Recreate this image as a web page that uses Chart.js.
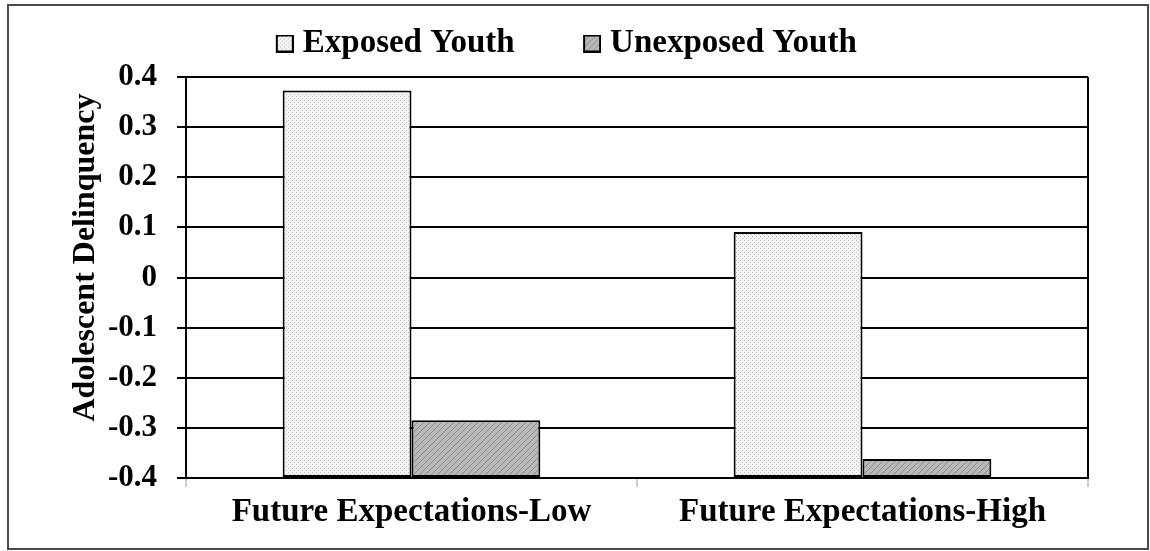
<!DOCTYPE html>
<html>
<head>
<meta charset="utf-8">
<script src="https://cdn.jsdelivr.net/npm/chart.js@4.4.1/dist/chart.umd.min.js"></script>
<style>
  html, body { margin: 0; padding: 0; background: #ffffff; }
  #wrap { position: relative; width: 1150px; height: 551px; overflow: hidden; }
  #frame { position: absolute; left: 7px; top: 4px; width: 1138px; height: 542px; border: 2px solid #4a4a4a; }
  #c { position: absolute; left: 0; top: 0; }
</style>
</head>
<body>
<div id="wrap">
  <div id="frame"></div>
  <canvas id="c" width="1150" height="551"></canvas>
</div>
<script>
// ---- data ----
const categories = ['Future Expectations-Low', 'Future Expectations-High'];
const seriesNames = ['Exposed Youth', 'Unexposed Youth'];
const exposedValues = [0.373, 0.091];
const unexposedValues = [-0.285, -0.362];
const yTickValues = [-0.4, -0.3, -0.2, -0.1, 0, 0.1, 0.2, 0.3, 0.4];
const yTickLabels = ['-0.4', '-0.3', '-0.2', '-0.1', '0', '0.1', '0.2', '0.3', '0.4'];
const yAxisTitle = 'Adolescent Delinquency';
const barBase = -0.4;

// ---- styles ----
const FONT = "'Liberation Serif', 'Times New Roman', serif";

function makeDots() {
  const c = document.createElement('canvas');
  c.width = 4; c.height = 4;
  const g = c.getContext('2d');
  g.fillStyle = '#f3f3f3'; g.fillRect(0, 0, 4, 4);
  g.fillStyle = '#c6c6c6';
  g.fillRect(0, 0, 1, 1); g.fillRect(2, 2, 1, 1);
  return g.createPattern(c, 'repeat');
}
function makeHatch() {
  const c = document.createElement('canvas');
  c.width = 6; c.height = 6;
  const g = c.getContext('2d');
  g.fillStyle = '#b8b8b8'; g.fillRect(0, 0, 6, 6);
  g.strokeStyle = '#8e8e8e'; g.lineWidth = 1;
  g.beginPath();
  g.moveTo(-1, 7); g.lineTo(7, -1);
  g.moveTo(-4, 4); g.lineTo(4, -4);
  g.moveTo(2, 10); g.lineTo(10, 2);
  g.stroke();
  return g.createPattern(c, 'repeat');
}
const fills = [makeDots(), makeHatch()];

// legend icons: box drawn at the right end of a wider transparent image
const ICON_SLOT = 55;
function makeIcon(fill) {
  const c = document.createElement('canvas');
  c.width = ICON_SLOT + 15; c.height = 18;
  const g = c.getContext('2d');
  const x0 = c.width - 18;
  g.fillStyle = fill; g.fillRect(x0 + 1, 1, 16, 16);
  g.strokeStyle = '#000'; g.lineWidth = 2;
  g.strokeRect(x0 + 1, 1, 16, 16);
  return c;
}
const icons = fills.map(makeIcon);

// small position tweaks: y-axis title sits above the plot centre, legend sits higher
const nudge = {
  id: 'nudge',
  beforeDraw(chart) {
    const s = chart.scales.y;
    if (s && !s.__nudged) {
      const orig = s.drawTitle.bind(s);
      s.drawTitle = function () {
        this.ctx.save(); this.ctx.translate(0, -20); orig(); this.ctx.restore();
      };
      s.__nudged = true;
    }
    const lg = chart.legend;
    if (lg && !lg.__nudged) {
      const origL = lg.draw.bind(lg);
      lg.draw = function () {
        this.ctx.save(); this.ctx.translate(0, -7); origL(); this.ctx.restore();
      };
      lg.__nudged = true;
    }
  }
};

const ctx = document.getElementById('c').getContext('2d');
new Chart(ctx, {
  type: 'bar',
  data: {
    labels: categories,
    datasets: [
      { label: seriesNames[0], data: exposedValues, base: barBase, backgroundColor: fills[0], borderColor: '#000', borderWidth: 2, borderSkipped: false },
      { label: seriesNames[1], data: unexposedValues, base: barBase, backgroundColor: fills[1], borderColor: '#000', borderWidth: 2, borderSkipped: false }
    ]
  },
  plugins: [nudge],
  options: {
    responsive: false,
    animation: false,
    devicePixelRatio: 1,
    layout: { padding: { left: 0, right: 62, top: 0, bottom: 0 } },
    datasets: { bar: { categoryPercentage: 0.5714, barPercentage: 1 } },
    plugins: {
      tooltip: { enabled: false },
      legend: {
        position: 'top',
        align: 'center',
        labels: {
          usePointStyle: true,
          pointStyleWidth: ICON_SLOT,
          padding: 24,
          color: '#000',
          font: { family: FONT, size: 33, weight: 'bold' },
          generateLabels(chart) {
            const items = Chart.defaults.plugins.legend.labels.generateLabels(chart);
            items.forEach((it, i) => { it.pointStyle = icons[i]; });
            return items;
          }
        }
      }
    },
    scales: {
      x: {
        type: 'category',
        offset: true,
        grid: {
          offset: true,
          drawOnChartArea: true,
          color: (c) => (c.index === 1 ? 'rgba(0,0,0,0)' : '#000'),
          lineWidth: 2,
          tickLength: 9,
          tickColor: '#9a9a9a',
          tickWidth: 1
        },
        border: { display: true, color: '#000', width: 2 },
        ticks: { color: '#000', padding: 6, font: { family: FONT, size: 33, weight: 'bold' }, maxRotation: 0 },
        afterFit(s) { s.height = 73; }
      },
      y: {
        min: -0.4,
        max: 0.4,
        afterBuildTicks(s) { s.ticks = yTickValues.map(v => ({ value: v })); },
        grid: { color: '#000', lineWidth: 2, tickLength: 9, tickColor: '#000', tickWidth: 2 },
        border: { display: true, color: '#000', width: 2 },
        ticks: {
          color: '#000', padding: 20,
          font: { family: FONT, size: 31, weight: 'bold' },
          callback(v, i) { return yTickLabels[i]; }
        },
        title: {
          display: true, text: yAxisTitle, color: '#000',
          font: { family: FONT, size: 32, weight: 'bold' },
          padding: { top: 67, bottom: 0 }
        },
        afterFit(s) { s.width = 186; s.paddingTop = 77; }
      }
    }
  }
});
</script>
</body>
</html>
